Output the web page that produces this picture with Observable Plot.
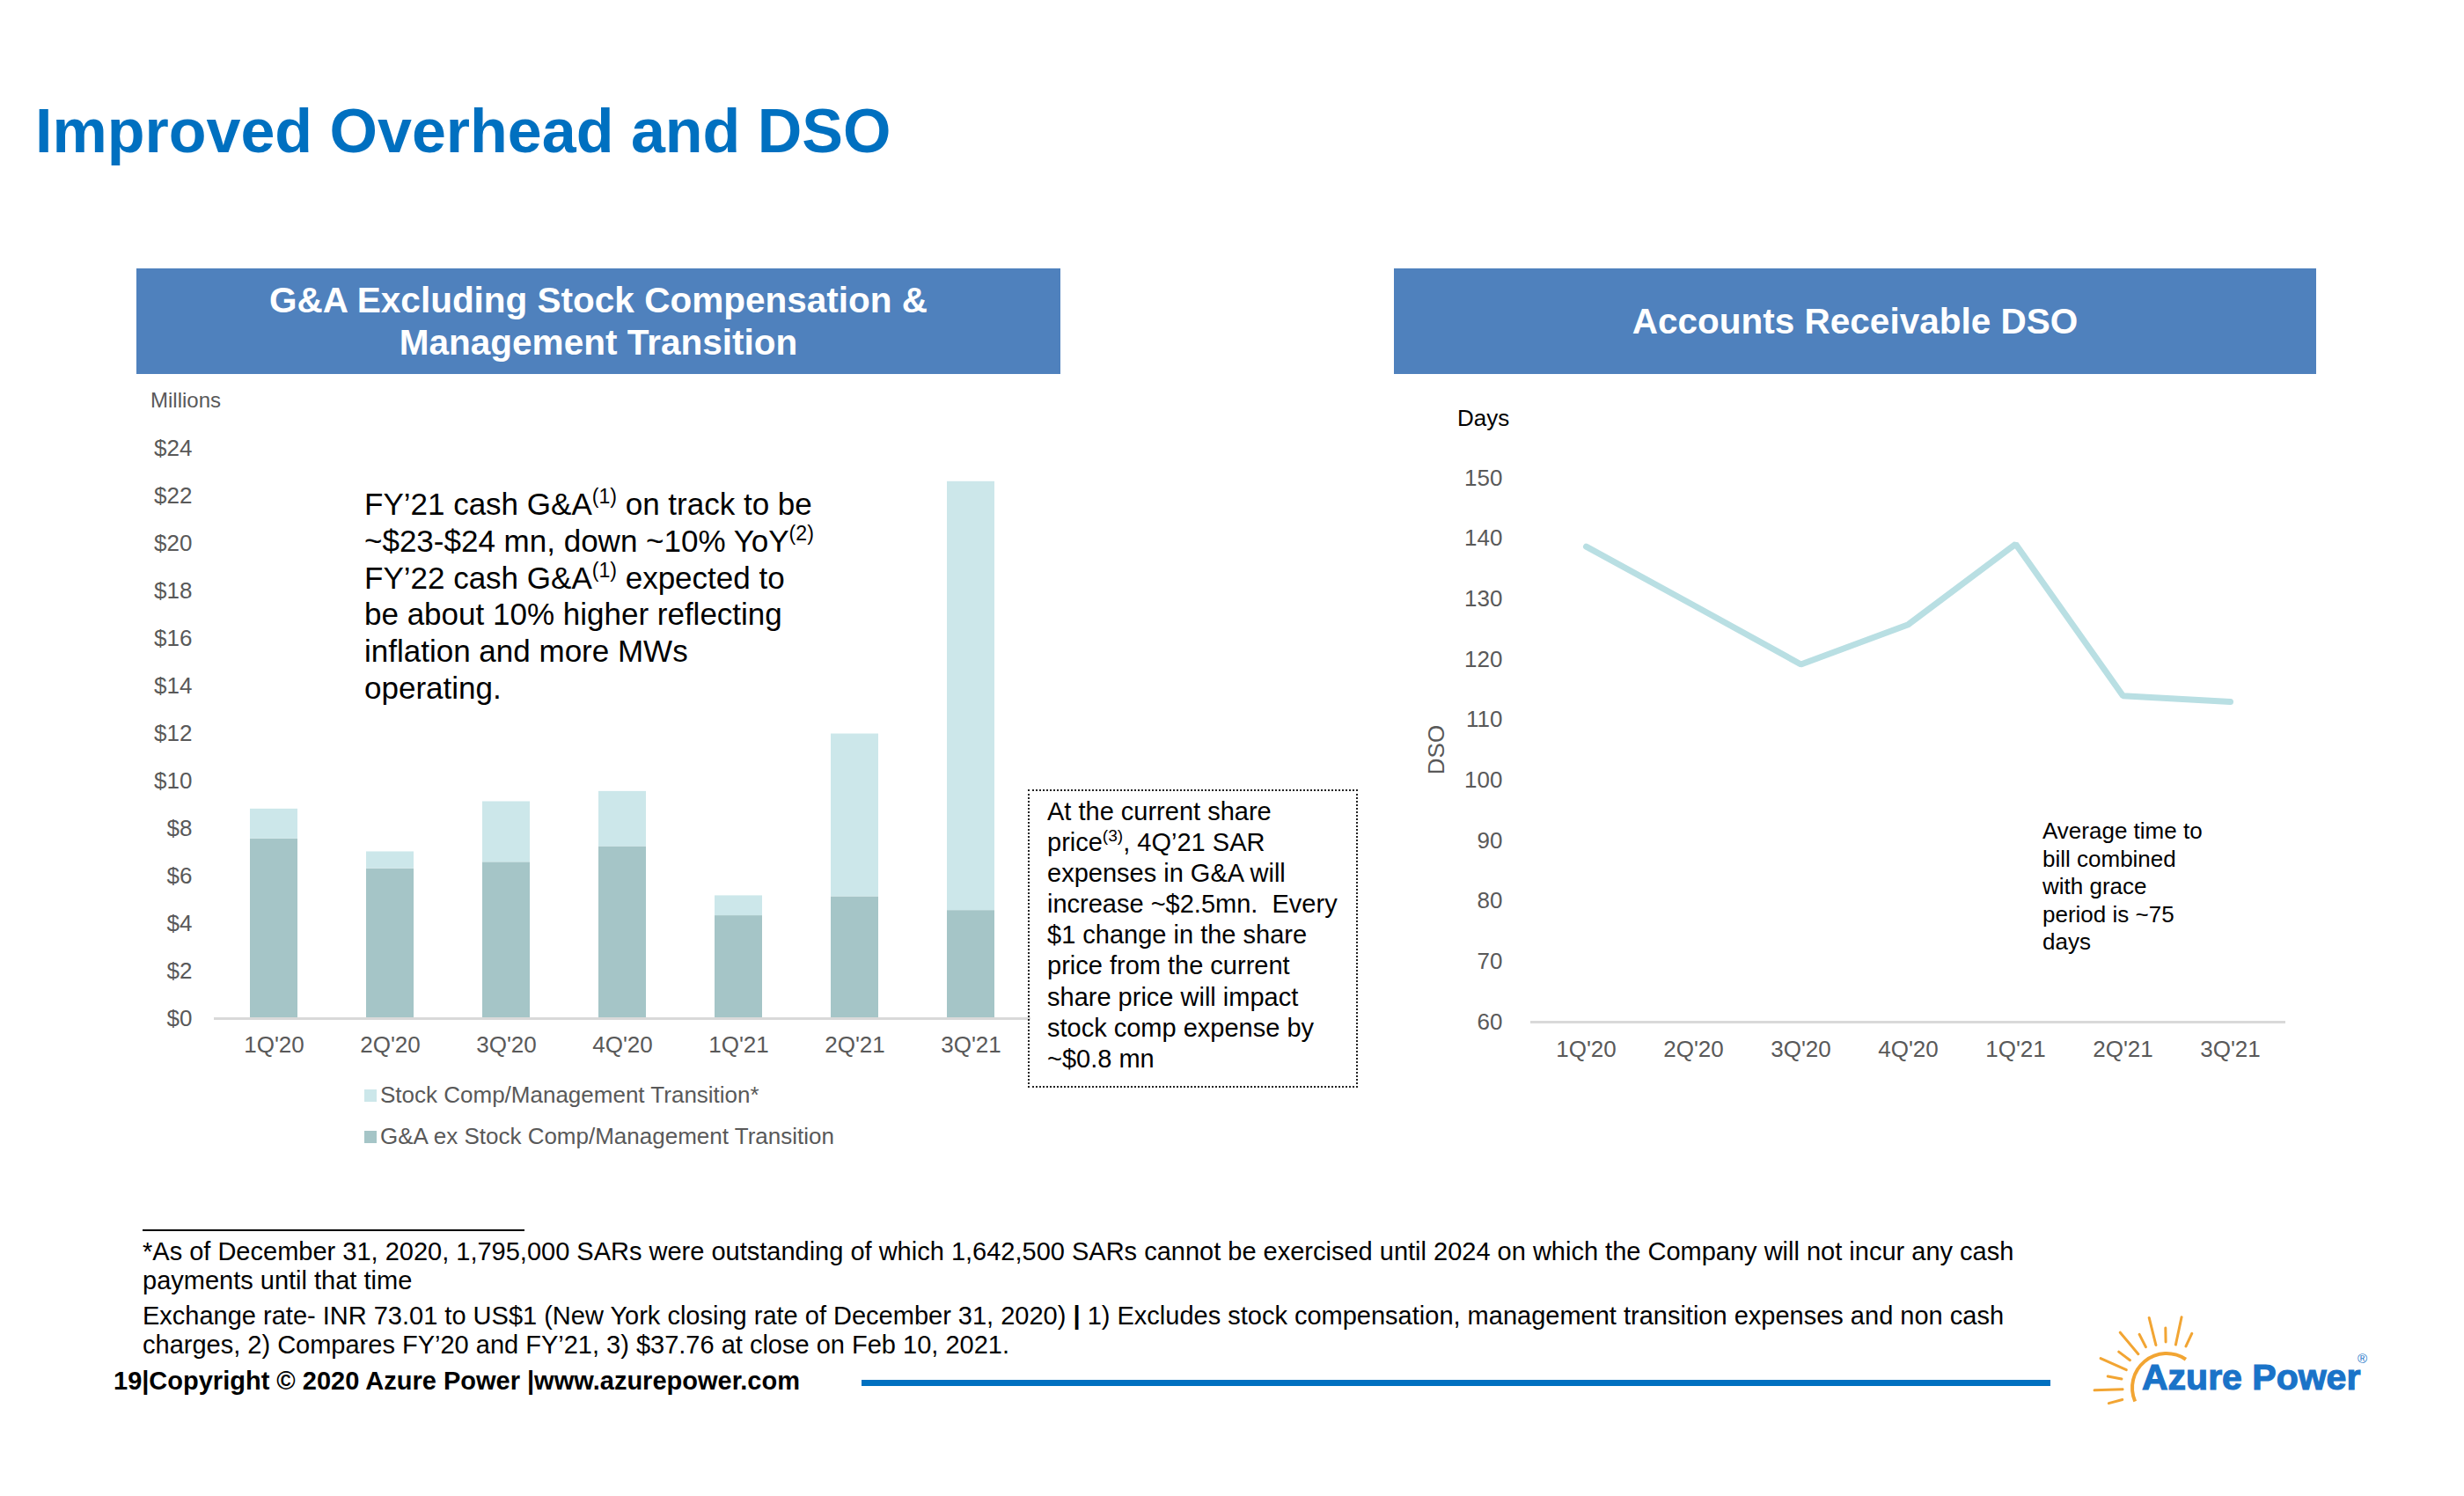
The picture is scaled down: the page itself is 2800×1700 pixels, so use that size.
<!DOCTYPE html>
<html><head><meta charset="utf-8">
<script src="https://cdn.jsdelivr.net/npm/d3@7"></script>
<script src="https://cdn.jsdelivr.net/npm/@observablehq/plot@0.6"></script>
<style>
html,body{margin:0;padding:0;background:#fff;}
#page{position:relative;width:2800px;height:1700px;overflow:hidden;font-family:"Liberation Sans",Arial,sans-serif;background:#fff;}
.abs{position:absolute;white-space:nowrap;}
.hdr{position:absolute;background:#4F81BD;color:#fff;font-weight:bold;font-size:40.5px;line-height:48px;display:flex;align-items:center;justify-content:center;text-align:center;}
sup{font-size:0.66em;line-height:0;vertical-align:0.55em;}
.pre{white-space:pre;}
</style></head><body><div id="page">
<div class="abs" style="left:40px;top:114px;font-size:70px;line-height:1;font-weight:bold;color:#0070C0;">Improved Overhead and DSO</div>

<div class="hdr" style="left:155px;top:305px;width:1050px;height:120px;">G&amp;A Excluding Stock Compensation &amp;<br>Management Transition</div>
<div class="hdr" style="left:1584px;top:305px;width:1048px;height:120px;">Accounts Receivable DSO</div>

<div class="abs" style="left:171px;top:443px;font-size:24px;line-height:1;color:#595959;">Millions</div>
<div id="leftChart" class="abs" style="left:155px;top:440px;width:1050px;height:780px;"></div>

<div class="abs" style="left:414px;top:552px;font-size:35px;line-height:41.8px;color:#000;">FY’21 cash G&amp;A<sup>(1)</sup> on track to be<br>~$23-$24 mn, down ~10% YoY<sup>(2)</sup><br>FY’22 cash G&amp;A<sup>(1)</sup> expected to<br>be about 10% higher reflecting<br>inflation and more MWs<br>operating.</div>

<div class="abs" style="left:1168px;top:897px;width:371px;height:335px;border:2px dotted #222;"></div>
<div class="abs pre" style="left:1190px;top:905px;font-size:29px;line-height:35.1px;color:#000;">At the current share
price<sup>(3)</sup>, 4Q’21 SAR
expenses in G&amp;A will
increase ~$2.5mn.  Every
$1 change in the share
price from the current
share price will impact
stock comp expense by
~$0.8 mn</div>

<div id="legend" class="abs" style="left:414px;top:1221px;font-size:26px;line-height:47px;color:#595959;"></div>

<div class="abs" style="left:1656px;top:462px;font-size:26px;line-height:1;color:#000;">Days</div>
<div class="abs" style="left:1592px;top:839px;width:80px;text-align:center;font-size:26px;line-height:1;color:#595959;transform:rotate(-90deg);">DSO</div>
<div id="rightChart" class="abs" style="left:1584px;top:440px;width:1048px;height:780px;"></div>
<div class="abs" style="left:2321px;top:929px;font-size:26px;line-height:31.6px;color:#000;">Average time to<br>bill combined<br>with grace<br>period is ~75<br>days</div>

<div class="abs" style="left:162px;top:1397px;width:434px;height:2px;background:#000;"></div>
<div class="abs" style="left:162px;top:1406px;font-size:29px;line-height:33px;color:#000;">*As of December 31, 2020, 1,795,000 SARs were outstanding of which 1,642,500 SARs cannot be exercised until 2024 on which the Company will not incur any cash<br>payments until that time</div>
<div class="abs" style="left:162px;top:1479px;font-size:29px;line-height:33px;color:#000;">Exchange rate- INR 73.01 to US$1 (New York closing rate of December 31, 2020) <b>|</b> 1) Excludes stock compensation, management transition expenses and non cash<br>charges, 2) Compares FY’20 and FY’21, 3) $37.76 at close on Feb 10, 2021.</div>
<div class="abs" style="left:129px;top:1555px;font-size:29px;line-height:29px;font-weight:bold;color:#000;">19|Copyright © 2020 Azure Power |www.azurepower.com</div>
<div class="abs" style="left:979px;top:1568px;width:1351px;height:7px;background:#0070C0;"></div>

<svg id="logo" class="abs" style="left:2350px;top:1480px;" width="350" height="160"></svg>
<div class="abs" style="left:2434px;top:1545px;font-size:41px;line-height:1;font-weight:bold;color:#1A73C8;-webkit-text-stroke:1.2px #1A73C8;">Azure Power</div>
<div class="abs" style="left:2679px;top:1536px;font-size:15px;line-height:1;color:#1A73C8;">®</div>
</div>
<script>
// ---- data ----
const quarters = ["1Q'20","2Q'20","3Q'20","4Q'20","1Q'21","2Q'21","3Q'21"];
const gaExStock = [7.57, 6.31, 6.58, 7.24, 4.33, 5.13, 4.55];
const stockComp = [1.25, 0.71, 2.55, 2.32, 0.84, 6.85, 18.05];
const seriesNames = ["G&A ex Stock Comp/Management Transition", "Stock Comp/Management Transition*"];
const seriesColors = ["#A5C5C7", "#CCE7EA"];
const gaTicks = [0, 2, 4, 6, 8, 10, 12, 14, 16, 18, 20, 22, 24];
const dsoDays = [138.7, 129.0, 119.2, 125.8, 139.1, 114.0, 113.0];
const dsoTicks = [60, 70, 80, 90, 100, 110, 120, 130, 140, 150];
const legendOrder = [1, 0];

const font = '"Liberation Sans", Arial, sans-serif';

const barRows = quarters.flatMap((q, i) => [
  {q, s: seriesNames[0], v: gaExStock[i]},
  {q, s: seriesNames[1], v: stockComp[i]}
]);

const left = Plot.plot({
  width: 1050, height: 780,
  marginLeft: 88, marginRight: 34, marginTop: 69, marginBottom: 63,
  style: {fontFamily: font, fontSize: "26px", color: "#595959", background: "transparent", overflow: "visible"},
  x: {domain: quarters, padding: 0, label: null, tickSize: 0, tickPadding: 20},
  y: {domain: [0, 24], ticks: gaTicks, tickFormat: d => "$" + d, label: null, tickSize: 0, tickPadding: 25},
  color: {domain: seriesNames, range: seriesColors},
  marks: [
    Plot.barY(barRows, {x: "q", y: "v", fill: "s", insetLeft: 39, insetRight: 39}),
    Plot.ruleY([0], {stroke: "#D9D9D9", strokeWidth: 3})
  ]
});
document.getElementById("leftChart").appendChild(left);

const lg = document.getElementById("legend");
legendOrder.forEach(i => {
  const row = document.createElement("div");
  row.style.cssText = "display:flex;align-items:center;height:47px;";
  row.innerHTML = `<span style="display:inline-block;width:14px;height:14px;background:${seriesColors[i]};margin-right:4px;"></span>${seriesNames[i].replace(/&/g,"&amp;")}`;
  lg.appendChild(row);
});

const dsoRows = quarters.map((q, i) => ({q, v: dsoDays[i]}));
const right = Plot.plot({
  width: 1048, height: 780,
  marginLeft: 155, marginRight: 35, marginTop: 103, marginBottom: 59,
  style: {fontFamily: font, fontSize: "26px", color: "#595959", background: "transparent", overflow: "visible"},
  x: {type: "point", domain: quarters, padding: 0.5, label: null, tickSize: 0, tickPadding: 21},
  y: {domain: [60, 150], ticks: dsoTicks, label: null, tickSize: 0, tickPadding: 32},
  marks: [
    Plot.ruleY([60], {stroke: "#D9D9D9", strokeWidth: 3}),
    Plot.line(dsoRows, {x: "q", y: "v", stroke: "#B9DFE3", strokeWidth: 7, strokeLinejoin: "miter"})
  ]
});
document.getElementById("rightChart").appendChild(right);

// ---- logo (decoration) ----
const logo = d3.select("#logo");
const cx = 112, cy = 97;
logo.append("path").attr("d", d3.arc().innerRadius(37).outerRadius(41).startAngle(-Math.PI * 0.63).endAngle(Math.PI * 0.19)())
  .attr("transform", `translate(${cx},${cy})`).attr("fill", "#F2A533");
for (let k = 0; k < 11; k++) {
  const deg = 65 + k * 13;
  const a = deg * Math.PI / 180;
  const long = k % 2 === 1;
  const r0 = long ? 50 : 52, r1 = long ? 82 : 68;
  logo.append("line")
    .attr("x1", cx + r0 * Math.cos(a)).attr("y1", cy - r0 * Math.sin(a))
    .attr("x2", cx + r1 * Math.cos(a)).attr("y2", cy - r1 * Math.sin(a))
    .attr("stroke", "#F2A533").attr("stroke-width", 3).attr("stroke-linecap", "round");
}
</script>
</body></html>
